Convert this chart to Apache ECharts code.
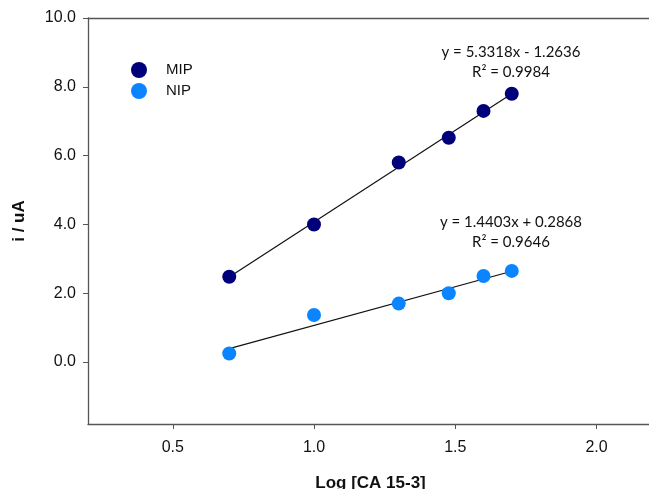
<!DOCTYPE html>
<html>
<head>
<meta charset="utf-8">
<script src="https://cdn.jsdelivr.net/npm/echarts@6/dist/echarts.min.js"></script>
<style>
  html, body { margin: 0; padding: 0; background: #fff; }
  #chart { width: 649px; height: 489px; }
</style>
</head>
<body>
<div id="chart"></div>
<script>
// concentrations (log scale) and currents
const logConc = [0.7, 1.0, 1.3, 1.477, 1.6, 1.7];
const mipCurrent = [2.48, 4.0, 5.8, 6.52, 7.3, 7.8];
const nipCurrent = [0.25, 1.37, 1.7, 2.0, 2.5, 2.65];

// trend line ends as drawn in the picture: [x, y]
const mipTrend = [[0.7, 2.47], [1.7, 7.80]];
const nipTrend = [[0.7, 0.39], [1.7, 2.64]];

// equation labels printed beside the lines
const mipEquation = ['y = 5.3318x - 1.2636', 'R² = 0.9984'];
const nipEquation = ['y = 1.4403x + 0.2868', 'R² = 0.9646'];

const xTicks = [0.5, 1.0, 1.5, 2.0];
const yTicks = [0, 2, 4, 6, 8, 10];

const MIP_COLOR = '#00007a';
const NIP_COLOR = '#0a84ff';

const pairs = (ys) => logConc.map((x, i) => [x, ys[i]]);

const chart = echarts.init(document.getElementById('chart'));

const tickFont = { fontFamily: 'Liberation Sans', fontSize: 16, color: '#111' };
const titleFont = { fontFamily: 'Liberation Sans', fontSize: 17, fontWeight: 'bold', color: '#111' };
const axisLine = { show: true, onZero: false, lineStyle: { color: '#555', width: 1.3 } };

chart.setOption({
  animation: false,
  grid: { left: 88, top: 18, width: 565, height: 406, containLabel: false, outerBoundsMode: 'none' },
  legend: {
    left: 126, top: 57, orient: 'vertical', itemGap: 5,
    itemWidth: 16, itemHeight: 16,
    textStyle: { fontFamily: 'Liberation Sans', fontSize: 15, color: '#111', padding: [0, 0, 0, 14] },
    data: [
      { name: 'MIP', icon: 'circle' },
      { name: 'NIP', icon: 'circle' }
    ]
  },
  xAxis: [{
    type: 'value', min: 0.2, max: 2.2,
    name: 'Log [CA 15-3]', nameLocation: 'middle', nameGap: 51, nameTextStyle: titleFont,
    axisLine,
    axisTick: { show: true, length: 5, lineStyle: { color: '#555' }, customValues: xTicks },
    axisLabel: { ...tickFont, margin: 16, customValues: xTicks, formatter: v => v.toFixed(1) },
    splitLine: { show: false }
  }, {
    type: 'value', min: 0.2, max: 2.2, position: 'top',
    axisLine,
    axisTick: { show: false }, axisLabel: { show: false }, splitLine: { show: false }
  }],
  yAxis: {
    type: 'value', min: -1.8, max: 10,
    name: 'i / uA', nameLocation: 'middle', nameGap: 60, nameRotate: 90, nameTextStyle: titleFont,
    axisLine,
    axisTick: { show: true, length: 5, lineStyle: { color: '#555' }, customValues: yTicks },
    axisLabel: { ...tickFont, margin: 12, customValues: yTicks, formatter: v => v.toFixed(1) },
    splitLine: { show: false }
  },
  series: [
    {
      name: 'MIP-fit', type: 'line', data: mipTrend, symbol: 'none', silent: true,
      lineStyle: { color: '#111', width: 1.2 }, z: 1
    },
    {
      name: 'NIP-fit', type: 'line', data: nipTrend, symbol: 'none', silent: true,
      lineStyle: { color: '#111', width: 1.2 }, z: 1
    },
    {
      name: 'MIP', type: 'scatter', data: pairs(mipCurrent), symbolSize: 14,
      itemStyle: { color: MIP_COLOR, opacity: 1 }, z: 2
    },
    {
      name: 'NIP', type: 'scatter', data: pairs(nipCurrent), symbolSize: 14,
      itemStyle: { color: NIP_COLOR, opacity: 1 }, z: 2
    }
  ],
  graphic: [[mipEquation, 52], [nipEquation, 222]].flatMap(([lines, top]) => lines.map((t, i) => ({
    type: 'text', x: 511, y: top + i * 20,
    style: {
      text: t, fill: '#111', align: 'center', verticalAlign: 'middle',
      font: '15px Lato, "Open Sans", sans-serif'
    }
  })))
});
</script>
</body>
</html>
